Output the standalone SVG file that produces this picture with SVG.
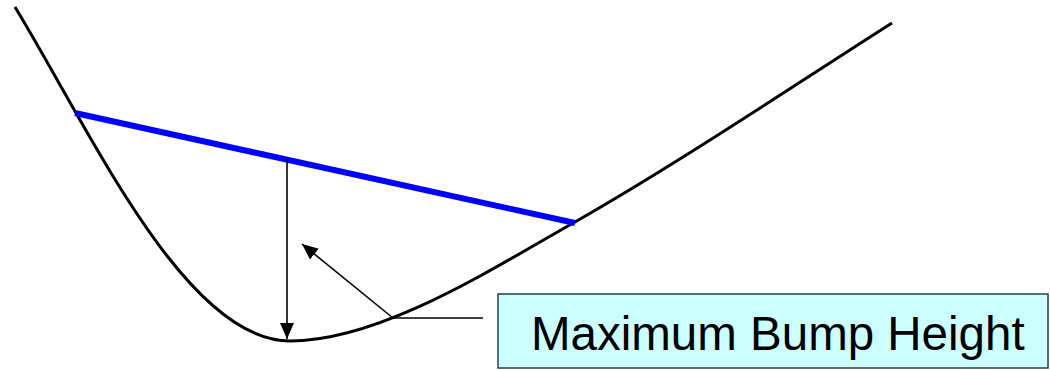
<svg xmlns="http://www.w3.org/2000/svg" width="1050" height="370" viewBox="0 0 1050 370">
<defs>
<style>
.curve{fill:none;stroke:#000;stroke-width:3}
.blue{stroke:#0000FF;stroke-width:6;fill:none}
.thin{stroke:#000;stroke-width:1.6;fill:none}
.lbl{font-family:"Liberation Sans",Arial,sans-serif;font-size:47.5px;fill:#000}
</style>
<marker id="ah2" viewBox="0 0 10 10" refX="10" refY="5" markerWidth="16" markerHeight="14" markerUnits="userSpaceOnUse" orient="auto" preserveAspectRatio="none">
<path d="M0,0 L10,5 L0,10 z" fill="#000"/>
</marker>
</defs>
<rect width="1050" height="370" fill="#fff"/>
<g id="curve">
<path class="curve" d="M15,7 C90,130 185,341 290,341 C380,341 490,270 575,222 C680,162 790,88 892,23"/>
</g>
<g id="chord">
<line class="blue" x1="75" y1="113" x2="575" y2="223"/>
</g>
<g id="connectors">
<line class="thin" x1="287" y1="158" x2="287" y2="339" marker-end="url(#ah2)"/>
<line class="thin" x1="393" y1="318" x2="302" y2="244" marker-end="url(#ah2)"/>
<line class="thin" x1="393" y1="318" x2="483" y2="318"/>
</g>
<g id="label">
<rect x="498" y="294" width="550" height="74" fill="#CCFFFF" stroke="#2F4F4F" stroke-width="1.6"/>
<text class="lbl" x="531" y="350">Maximum Bump Height</text>
</g>
</svg>
